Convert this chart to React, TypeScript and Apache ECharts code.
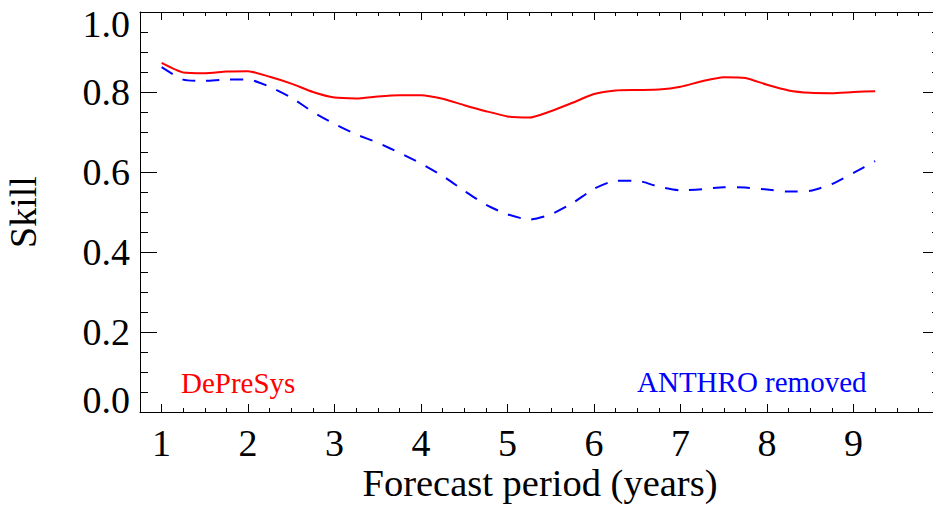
import React, { useEffect, useRef } from "react";
import * as echarts from "echarts";

const forecastYears = [1.0, 1.25, 1.5, 1.75, 2.0, 2.25, 2.5, 2.75, 3.0, 3.25, 3.5, 3.75, 4.0, 4.25, 4.5, 4.75, 5.0, 5.25, 5.5, 5.75, 6.0, 6.25, 6.5, 6.75, 7.0, 7.25, 7.5, 7.75, 8.0, 8.25, 8.5, 8.75, 9.0, 9.25];
const depresysSkill = [0.873, 0.849, 0.847, 0.851, 0.852, 0.838, 0.821, 0.800, 0.786, 0.784, 0.789, 0.792, 0.792, 0.783, 0.767, 0.752, 0.739, 0.736, 0.752, 0.773, 0.795, 0.804, 0.805, 0.806, 0.813, 0.827, 0.837, 0.835, 0.818, 0.804, 0.798, 0.797, 0.800, 0.802];
const anthroRemovedSkill = [0.862, 0.831, 0.828, 0.831, 0.831, 0.813, 0.786, 0.750, 0.720, 0.694, 0.673, 0.648, 0.621, 0.590, 0.553, 0.518, 0.494, 0.481, 0.494, 0.522, 0.558, 0.578, 0.578, 0.563, 0.554, 0.557, 0.562, 0.561, 0.556, 0.551, 0.553, 0.570, 0.598, 0.627];
const xMajorTicks = [1, 2, 3, 4, 5, 6, 7, 8, 9, 10];
const xTickLabels = [1, 2, 3, 4, 5, 6, 7, 8, 9];

const FONT = '"Liberation Serif", "Times New Roman", serif';
const BLACK = "#000";

export default function App() {
  const ref = useRef<HTMLDivElement>(null);
  useEffect(() => {
    if (!ref.current) return;
    const chart = echarts.init(ref.current, null, { renderer: "svg" });
    const xBase = { type: "value", min: 0.75, max: 10, interval: 0.25, splitLine: { show: false } };
    const labelFont = { fontFamily: FONT, fontSize: 38, color: BLACK };
    const option: any = {
      animation: false,
      backgroundColor: "#fff",
      grid: { left: 140, top: 12, width: 800, height: 400, containLabel: false, outerBoundsMode: "none" },
      xAxis: [
        {
          ...xBase,
          position: "bottom",
          axisLine: { show: true, onZero: false, lineStyle: { color: BLACK, width: 1 } },
          axisTick: { show: true, inside: true, length: 8, customValues: xMajorTicks, lineStyle: { color: BLACK } },
          axisLabel: {
            show: true,
            customValues: xTickLabels,
            formatter: (v: number) => String(Math.round(v)),
            ...labelFont,
            margin: 12,
          },
          name: "Forecast period (years)",
          nameLocation: "middle",
          nameGap: 51,
          nameMoveOverlap: false,
          nameTextStyle: { fontFamily: FONT, fontSize: 38.5, color: BLACK },
        },
        {
          ...xBase,
          position: "bottom",
          axisLine: { show: false, onZero: false },
          axisTick: { show: true, inside: true, length: 4, lineStyle: { color: BLACK } },
          axisLabel: { show: false },
        },
        {
          ...xBase,
          position: "top",
          axisLine: { show: true, onZero: false, lineStyle: { color: BLACK, width: 1 } },
          axisTick: { show: true, inside: true, length: 8, customValues: xMajorTicks, lineStyle: { color: BLACK } },
          axisLabel: { show: false },
        },
        {
          ...xBase,
          position: "top",
          axisLine: { show: false, onZero: false },
          axisTick: { show: true, inside: true, length: 4, lineStyle: { color: BLACK } },
          axisLabel: { show: false },
        },
      ],
      yAxis: [
        {
          type: "value",
          position: "left",
          min: 0,
          max: 1,
          interval: 0.2,
          splitLine: { show: false },
          axisLine: { show: true, onZero: false, lineStyle: { color: BLACK, width: 1 } },
          axisTick: { show: true, inside: true, length: 17, lineStyle: { color: BLACK } },
          minorTick: { show: true, splitNumber: 4, length: 8, lineStyle: { color: BLACK } },
          axisLabel: {
            formatter: (v: number) => {
              const s = v.toFixed(1);
              if (v >= 0.999) return `{top|${s}}`;
              if (v <= 0.001) return `{bot|${s}}`;
              return s;
            },
            ...labelFont,
            margin: 10,
            rich: {
              top: { ...labelFont, padding: [23, 0, 0, 0] },
              bot: { ...labelFont, padding: [0, 0, 24, 0] },
            },
          },
          name: "Skill",
          nameLocation: "middle",
          nameGap: 98,
          nameMoveOverlap: false,
          nameRotate: 90,
          nameTextStyle: { fontFamily: FONT, fontSize: 38, color: BLACK },
        },
        {
          type: "value",
          position: "right",
          min: 0,
          max: 1,
          interval: 0.2,
          splitLine: { show: false },
          axisLine: { show: true, onZero: false, lineStyle: { color: BLACK, width: 1 } },
          axisTick: { show: true, inside: true, length: 17, lineStyle: { color: BLACK } },
          minorTick: { show: true, splitNumber: 4, length: 8, lineStyle: { color: BLACK } },
          axisLabel: { show: false },
        },
      ],
      series: [
        {
          name: "DePreSys",
          type: "line",
          xAxisIndex: 0,
          yAxisIndex: 0,
          data: forecastYears.map((x, i) => [x, depresysSkill[i]]),
          showSymbol: false,
          symbol: "none",
          smooth: 0.2,
          lineStyle: { color: "#ff0000", width: 2, type: "solid" },
        },
        {
          name: "ANTHRO removed",
          type: "line",
          xAxisIndex: 0,
          yAxisIndex: 0,
          data: forecastYears.map((x, i) => [x, anthroRemovedSkill[i]]),
          showSymbol: false,
          symbol: "none",
          smooth: 0.2,
          lineStyle: { color: "#0000ff", width: 2, type: [13, 11] },
        },
      ],
      graphic: [
        {
          type: "text",
          x: 181,
          y: 383,
          style: { text: "DePreSys", fill: "#ff0000", font: `29px ${FONT}`, verticalAlign: "middle", align: "left" },
        },
        {
          type: "text",
          x: 637,
          y: 382,
          style: { text: "ANTHRO removed", fill: "#0000ff", font: `29px ${FONT}`, verticalAlign: "middle", align: "left" },
        },
      ],
    };
    chart.setOption(option);
    return () => chart.dispose();
  }, []);
  return (
    <div
      ref={ref}
      style={{ position: "fixed", left: 0, top: 0, width: 933, height: 506, background: "#fff" }}
    />
  );
}
